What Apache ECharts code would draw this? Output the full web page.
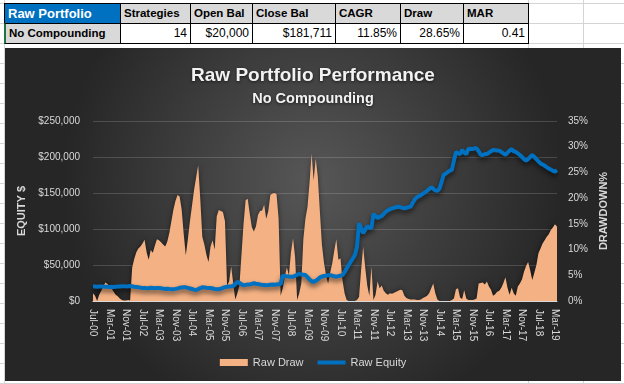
<!DOCTYPE html>
<html>
<head>
<meta charset="utf-8">
<script src="https://cdn.jsdelivr.net/npm/echarts@6/dist/echarts.min.js"></script>
<style>
html,body{margin:0;padding:0;}
body{width:624px;height:384px;overflow:hidden;position:relative;background:#fff;font-family:"Liberation Sans",Arial,sans-serif;}
#sheet{position:absolute;left:0;top:0;width:624px;height:384px;
  background-image:repeating-linear-gradient(to bottom,#d4d4d4 0px,#d4d4d4 1px,transparent 1px,transparent 20px);
  background-position:0 3px;}
.vl{position:absolute;top:0;width:1px;height:384px;background:#d4d4d4;}
.cell{position:absolute;box-sizing:border-box;height:21px;border:1px solid #000;line-height:19px;white-space:nowrap;overflow:hidden;color:#000;}
.hd{background:#d9d9d9;font-weight:bold;font-size:11.5px;padding-left:3px;}
.val{background:#fff;font-size:12px;text-align:right;padding-right:3px;}
#chart{position:absolute;left:5px;top:48px;width:616px;height:333px;}
</style>
</head>
<body>
<div id="sheet"></div>
<div class="vl" style="left:4px"></div>
<div class="vl" style="left:528px"></div>
<div class="vl" style="left:583px"></div>
<div id="table"></div>
<div id="chart"></div>
<script>
// ---- Table content ----
const tableHeaders = ['Strategies', 'Open Bal', 'Close Bal', 'CAGR', 'Draw', 'MAR'];
const tableValues = ['14', '$20,000', '$181,711', '11.85%', '28.65%', '0.41'];
const tableTitle = 'Raw Portfolio';
const tableRowName = 'No Compounding';

// ---- Chart data ----
const monthNames = ['Jan','Feb','Mar','Apr','May','Jun','Jul','Aug','Sep','Oct','Nov','Dec'];
const startMonth = 6;   // Jul
const startYear = 0;    // 2000
const monthCount = 226;

const equity = [
  20000, 20200, 19800, 20100, 20300, 20000, 19700, 19900, 19600, 19800,
  19500, 19900, 20200, 20000, 20400, 20600, 20300, 20500, 20800, 20400,
  19800, 19500, 19000, 18600, 18200, 17900, 17600, 17800, 18300, 18100,
  17800, 18200, 18000, 17600, 17200, 16800, 17000, 16600, 16400, 16200,
  16800, 17500, 18300, 18900, 19200, 19000, 18200, 17400, 16600, 15800,
  15300, 16500, 17800, 19000, 18800, 18400, 18200, 18000, 17400, 16800,
  16400, 16200, 17000, 18200, 19300, 19900, 20300, 20500, 20800, 23500,
  26800, 25000, 23200, 22000, 22400, 22800, 23000, 23800, 24600, 24000,
  23500, 23000, 22600, 22300, 22000, 22200, 22500, 22800, 22500, 23000,
  23300, 23600, 35000, 34600, 34200, 34000, 33800, 33800, 35000, 36500,
  37500, 37000, 36500, 36000, 33000, 30000, 27500, 26800, 28000, 30000,
  32500, 34000, 34700, 35300, 35800, 36000, 35200, 34300, 33800, 34500,
  35300, 36000, 40000, 45000, 50000, 54600, 59000, 64000, 75000, 108000,
  101000, 94000, 99000, 104000, 102000, 101000, 121000, 118000, 115000, 117000,
  118000, 121000, 124000, 126000, 127500, 128700, 129500, 130500, 131000, 130500,
  129500, 128700, 129500, 130500, 131000, 136000, 141000, 144000, 145500, 147000,
  149000, 151000, 153000, 155500, 158000, 156000, 153500, 153000, 156000, 165000,
  175000, 177000, 179000, 181000, 182000, 195000, 207000, 205000, 204000, 209700,
  206000, 204000, 211000, 211500, 211000, 212000, 212000, 208000, 203000, 202800,
  204000, 204000, 206000, 208000, 209700, 209500, 209000, 208800, 207000, 205000,
  202800, 206000, 209000, 210700, 208000, 207000, 205000, 202800, 200000, 197000,
  194900, 197000, 200000, 202800, 200000, 197000, 194000, 191000, 189500, 188000,
  186000, 184000, 182500, 181000, 179600, 181711
];

const drawdown = [
  1.5, 1.0, 0, 1.2, 2.0, 2.8, 3.6, 3.3, 2.9, 2.5,
  1.8, 1.2, 0.9, 0.5, 0.2, 0.1, 0.1, 0.2, 0.1, 6.5,
  8.2, 9.5, 10.2, 10.6, 11.2, 11.9, 9.5, 8.0, 9.9, 9.4,
  10.8, 12.0, 11.8, 11.4, 11.0, 10.6, 11.5, 13.2, 15.5, 17.8,
  19.5, 20.6, 20.3, 17.8, 13.0, 8.9, 12.0, 15.5, 18.5, 21.6,
  24.0, 26.4, 20.0, 12.5, 11.0, 9.0, 7.6, 10.6, 11.8, 10.0,
  16.5, 17.7, 17.5, 17.3, 15.5, 3.0, 3.8, 6.7, 3.4, 0.3,
  1.5, 3.0, 9.0, 15.0, 19.6, 19.9, 17.0, 14.4, 13.5, 14.5,
  16.7, 17.5, 17.6, 18.7, 16.0, 17.5, 20.6, 20.9, 21.0, 20.8,
  16.0, 1.0, 2.5, 4.7, 6.5, 5.0, 9.5, 12.2, 8.5, 0.2,
  1.5, 3.4, 12.0, 16.0, 18.3, 23.0, 28.65, 23.5, 27.7, 24.2,
  17.5, 11.0, 7.5, 5.0, 3.4, 5.5, 7.3, 9.8, 12.0, 8.0,
  8.3, 4.0, 1.5, 0.2, 0, 0, 0, 0, 0.2, 0.8,
  6.0, 10.6, 6.5, 3.0, 1.0, 6.7, 0.2, 1.2, 3.8, 2.5,
  3.0, 2.0, 1.5, 1.2, 1.5, 1.4, 1.6, 1.8, 2.0, 2.2,
  2.1, 1.0, 0.6, 0.4, 0.3, 0.3, 0.3, 0.2, 0.2, 0.3,
  0.6, 0.8, 1.0, 1.5, 2.5, 3.4, 1.5, 0.3, 0, 0,
  0, 0, 0, 0, 0.2, 0.5, 2.3, 2.5, 0.7, 0.4,
  2.1, 0.5, 0.2, 0.2, 0.2, 0.3, 0.5, 3.4, 3.5, 3.6,
  3.2, 3.8, 2.8, 2.2, 1.0, 1.3, 1.8, 2.0, 2.6, 3.5,
  4.6, 2.6, 1.2, 2.6, 1.5, 1.0, 2.8, 3.4, 4.2, 5.7,
  6.8, 7.6, 6.0, 4.1, 5.5, 7.0, 9.3, 10.2, 11.2, 11.8,
  12.5, 13.0, 13.8, 14.3, 14.9, 14.5
];

const categories = [];
for (let k = 0; k < monthCount; k++) {
  const m = (startMonth + k) % 12;
  const y = startYear + Math.floor((startMonth + k) / 12);
  categories.push(monthNames[m] + '-' + String(y).padStart(2, '0'));
}

// ---- Build table ----
(function buildTable(){
  const t = document.getElementById('table');
  const cols = [4, 120, 190, 252, 335, 400, 463, 528];
  function add(x0, x1, y, cls, text, style){
    const d = document.createElement('div');
    d.className = 'cell ' + cls;
    d.style.left = x0 + 'px'; d.style.top = y + 'px';
    d.style.width = (x1 - x0 + 1) + 'px';
    if (style) Object.assign(d.style, style);
    d.textContent = text;
    t.appendChild(d);
  }
  add(cols[0], cols[1], 3, 'hd', tableTitle, {background:'#0070c0', color:'#fff', fontSize:'13px'});
  add(cols[0], cols[1], 23, 'hd', tableRowName, {borderLeft:'2px solid #217346'});
  for (let i = 0; i < tableHeaders.length; i++) {
    add(cols[i+1], cols[i+2], 3, 'hd', tableHeaders[i]);
    add(cols[i+1], cols[i+2], 23, 'val', tableValues[i]);
  }
})();

// ---- Chart ----
const chart = echarts.init(document.getElementById('chart'), null, {renderer: 'canvas'});
const fontFamily = '"Liberation Sans", Arial, sans-serif';
chart.setOption({
  animation: false,
  backgroundColor: {
    type: 'radial', x: 0.5, y: 0.4, r: 0.75,
    colorStops: [{offset: 0, color: '#575757'}, {offset: 1, color: '#262626'}]
  },
  textStyle: {fontFamily: fontFamily},
  title: [
    {text: 'Raw Portfolio Performance', left: 'center', top: 13,
     textStyle: {color: '#f2f2f2', fontSize: 19, fontWeight: 'bold', fontFamily: fontFamily,
       textShadowColor: 'rgba(0,0,0,0.6)', textShadowBlur: 3, textShadowOffsetY: 1}},
    {text: 'No Compounding', left: 'center', top: 38,
     textStyle: {color: '#f2f2f2', fontSize: 14.5, fontWeight: 'bold', fontFamily: fontFamily,
       textShadowColor: 'rgba(0,0,0,0.6)', textShadowBlur: 3, textShadowOffsetY: 1}}
  ],
  grid: {left: 88, right: 64, top: 73, bottom: 80, containLabel: false},
  legend: {
    left: 'center', top: 304, itemGap: 12, itemWidth: 28, itemHeight: 7,
    textStyle: {color: '#d9d9d9', fontSize: 11, fontFamily: fontFamily},
    data: [
      {name: 'Raw Draw', icon: 'rect'},
      {name: 'Raw Equity', itemStyle: {opacity: 0}, lineStyle: {width: 4, color: '#0070c0', opacity: 1}}
    ]
  },
  xAxis: {
    type: 'category', data: categories, boundaryGap: false,
    axisLine: {lineStyle: {color: '#d9d9d9', width: 1}},
    axisTick: {show: false},
    axisLabel: {interval: 7, rotate: -90, color: '#d9d9d9', fontSize: 10, margin: 8, fontFamily: fontFamily},
    splitLine: {show: false}
  },
  yAxis: [
    {
      type: 'value', min: 0, max: 250000, interval: 50000, position: 'left',
      name: 'EQUITY $', nameLocation: 'middle', nameRotate: 90, nameGap: 60,
      nameTextStyle: {color: '#d9d9d9', fontSize: 11, fontWeight: 'bold', fontFamily: fontFamily},
      axisLine: {show: false}, axisTick: {show: false},
      axisLabel: {color: '#d9d9d9', fontSize: 10, margin: 13, fontFamily: fontFamily,
        formatter: v => '$' + v.toLocaleString('en-US')},
      splitLine: {lineStyle: {color: 'rgba(255,255,255,0.16)', width: 1}}
    },
    {
      type: 'value', min: 0, max: 35, interval: 5, position: 'right',
      name: 'DRAWDOWN%', nameLocation: 'middle', nameRotate: 90, nameGap: 35,
      nameTextStyle: {color: '#d9d9d9', fontSize: 11, fontWeight: 'bold', fontFamily: fontFamily},
      axisLine: {show: false}, axisTick: {show: false},
      axisLabel: {color: '#d9d9d9', fontSize: 10, margin: 11, fontFamily: fontFamily, formatter: '{value}%'},
      splitLine: {show: false}
    }
  ],
  series: [
    {
      name: 'Raw Draw', type: 'line', yAxisIndex: 1, data: drawdown,
      symbol: 'none', showSymbol: false,
      itemStyle: {color: '#f4b183'},
      lineStyle: {width: 0, color: '#f4b183'},
      areaStyle: {color: '#f4b183', opacity: 1,
        shadowColor: 'rgba(0,0,0,0.55)', shadowBlur: 5, shadowOffsetY: 0},
      z: 2
    },
    {
      name: 'Raw Equity', type: 'line', yAxisIndex: 0, data: equity,
      symbol: 'none', showSymbol: false,
      itemStyle: {color: '#0070c0'},
      lineStyle: {width: 4, color: '#0070c0',
        shadowColor: 'rgba(0,0,0,0.6)', shadowBlur: 5, shadowOffsetY: 3},
      z: 3
    }
  ]
});
</script>
</body>
</html>
